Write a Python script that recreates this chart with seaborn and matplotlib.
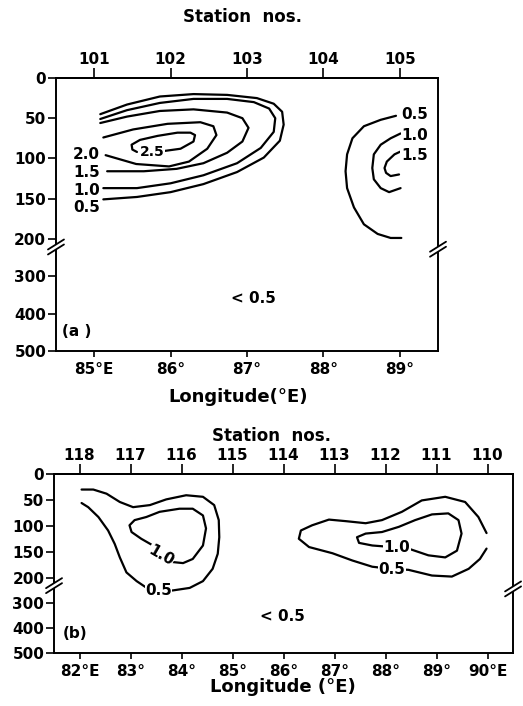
import numpy as np
import matplotlib
matplotlib.use('Agg')
import matplotlib.pyplot as plt
from matplotlib.patches import Polygon
import seaborn as sns

# ---- data (longitude, depth in m) ----
# panel (a): stations 101-105
a_stations = ['101', '102', '103', '104', '105']
a_station_lon = [85, 86, 87, 88, 89]
a_lon_ticks = [85, 86, 87, 88, 89]
a_lon_labels = ['85°E', '86°', '87°', '88°', '89°']

a_w05_lon = [85.12, 85.56, 86.00, 86.43, 86.87, 87.22, 87.43, 87.48, 87.46, 87.35, 87.13, 86.74, 86.30, 85.86, 85.43, 85.08]
a_w05_dep = [151, 148, 142, 132, 117, 99, 78, 58, 42, 32, 25, 21, 20, 23, 33, 45]
a_w10_lon = [85.12, 85.56, 86.00, 86.43, 86.87, 87.18, 87.35, 87.37, 87.29, 87.09, 86.74, 86.30, 85.86, 85.43, 85.08]
a_w10_dep = [137, 137, 131, 121, 106, 87, 67, 50, 38, 30, 26, 26, 31, 40, 51]
a_w15_lon = [85.17, 85.65, 86.08, 86.43, 86.74, 86.94, 87.02, 86.94, 86.74, 86.30, 85.86, 85.43, 85.08]
a_w15_dep = [116, 116, 113, 106, 93, 79, 62, 50, 43, 39, 41, 48, 56]
a_w20_lon = [85.15, 85.55, 85.98, 86.24, 86.48, 86.60, 86.56, 86.39, 85.96, 85.51, 85.12]
a_w20_dep = [96, 107, 110, 104, 88, 71, 60, 55, 57, 64, 74]
a_w25_lon = [85.90, 86.13, 86.30, 86.32, 86.26, 86.09, 85.83, 85.60, 85.49, 85.50, 85.56]
a_w25_dep = [91, 88, 79, 71, 68, 68, 72, 77, 83, 89, 92]

a_e05_lon = [88.95, 88.75, 88.53, 88.38, 88.31, 88.29, 88.31, 88.40, 88.53, 88.71, 88.88, 89.02]
a_e05_dep = [47, 52, 60, 75, 95, 116, 137, 161, 182, 194, 199, 199]
a_e10_lon = [89.01, 88.88, 88.75, 88.66, 88.64, 88.66, 88.75, 88.86, 89.01]
a_e10_dep = [69, 75, 83, 95, 112, 126, 137, 142, 137]
a_e15_lon = [89.02, 88.93, 88.83, 88.80, 88.82, 88.88, 88.99]
a_e15_dep = [91, 95, 104, 112, 118, 122, 120]

# panel (b): stations 118-110
b_stations = ['118', '117', '116', '115', '114', '113', '112', '111', '110']
b_station_lon = [82, 83, 84, 85, 86, 87, 88, 89, 90]
b_lon_ticks = [82, 83, 84, 85, 86, 87, 88, 89, 90]
b_lon_labels = ['82°E', '83°', '84°', '85°', '86°', '87°', '88°', '89°', '90°E']

b_w05_lon = [82.04, 82.27, 82.53, 82.79, 83.05, 83.38, 83.70, 84.09, 84.42, 84.64, 84.73, 84.74, 84.71, 84.61, 84.42, 84.16, 83.83, 83.55, 83.34, 83.12, 82.92, 82.79, 82.69, 82.56, 82.37, 82.17, 82.04]
b_w05_dep = [30, 30, 38, 54, 64, 60, 49, 41, 44, 60, 89, 122, 154, 183, 214, 241, 251, 255, 244, 214, 190, 161, 135, 109, 83, 64, 56]
b_w10_lon = [83.44, 83.21, 83.02, 82.98, 83.08, 83.31, 83.57, 83.96, 84.22, 84.42, 84.48, 84.42, 84.22, 84.03, 83.83, 83.60, 83.44]
b_w10_dep = [138, 125, 112, 99, 89, 83, 73, 67, 67, 80, 105, 138, 164, 172, 170, 158, 138]
b_e05_lon = [89.98, 89.82, 89.56, 89.17, 88.71, 88.32, 87.93, 87.61, 87.22, 86.89, 86.56, 86.34, 86.30, 86.50, 86.96, 87.35, 87.74, 88.10, 88.45, 88.91, 89.30, 89.63, 89.85, 89.98]
b_e05_dep = [114, 83, 54, 44, 51, 73, 89, 95, 91, 88, 99, 109, 125, 141, 153, 167, 179, 183, 185, 196, 198, 183, 164, 144]
b_e10_lon = [88.45, 88.84, 89.17, 89.40, 89.49, 89.43, 89.23, 88.91, 88.58, 88.26, 87.93, 87.61, 87.44, 87.48, 87.74, 88.00, 88.22, 88.45]
b_e10_dep = [144, 157, 161, 148, 115, 89, 76, 78, 89, 102, 112, 115, 122, 133, 138, 140, 142, 144]

depth_ticks = [0, 50, 100, 150, 200, 300, 400, 500]

sns.set_style('ticks')
plt.rcParams['font.family'] = ['DejaVu Sans']
plt.rcParams['font.weight'] = 'bold'
for key in ['text.color', 'axes.labelcolor', 'xtick.color', 'ytick.color', 'axes.edgecolor']:
    plt.rcParams[key] = 'black'

FW, FH = 523, 706
fig = plt.figure(figsize=(FW / 100, FH / 100), dpi=100)
ax_a = fig.add_axes([0.107, 0.503, 0.7305, 0.3865])
ax_b = fig.add_axes([0.1033, 0.0751, 0.8777, 0.2535])


def make_scale(k):
    # broken depth axis: 0-200 m stretched, 200-500 m compressed
    def fwd(d):
        d = np.asarray(d, dtype=float)
        return np.where(d <= 200, d, 200 + (d - 200) * k)

    def inv(f):
        f = np.asarray(f, dtype=float)
        return np.where(f <= 200, f, 200 + (f - 200) / k)
    return fwd, inv


def draw_break(ax, xa, depth, fwd):
    ya = 1 - float(fwd(depth)) / float(fwd(500))
    pos = ax.get_position()
    dx = 8 / (pos.width * FW)
    dy = 5 / (pos.height * FH)
    gap = 2.5 / (pos.height * FH)
    ax.add_patch(Polygon([(xa - dx, ya - dy - gap), (xa + dx, ya + dy - gap),
                          (xa + dx, ya + dy + gap), (xa - dx, ya - dy + gap)],
                         closed=True, transform=ax.transAxes, facecolor='white',
                         edgecolor='none', clip_on=False, zorder=5))
    for s in (-gap, gap):
        ax.plot([xa - dx, xa + dx], [ya - dy + s, ya + dy + s], transform=ax.transAxes,
                color='black', lw=1.3, clip_on=False, zorder=6)


def setup_axes(ax, k, xlim, ticks, tick_labels, st_lon, st_labels):
    fwd, inv = make_scale(k)
    ax.set_yscale('function', functions=(fwd, inv))
    ax.set_xlim(*xlim)
    ax.set_ylim(500, 0)
    ax.set_yticks(depth_ticks)
    ax.set_yticklabels([str(t) for t in depth_ticks], fontsize=11, fontweight='bold')
    ax.set_xticks(ticks)
    ax.set_xticklabels(tick_labels, fontsize=11, fontweight='bold')
    ax.tick_params(axis='y', direction='out', length=6, width=1.2, pad=1)
    ax.tick_params(axis='x', direction='out', length=4, width=1.2, pad=4)
    ax.yaxis.set_minor_locator(plt.NullLocator())
    for sp in ax.spines.values():
        sp.set_visible(True)
        sp.set_linewidth(1.4)
        sp.set_color('black')
    sec = ax.secondary_xaxis('top')
    sec.set_xticks(st_lon)
    sec.set_xticklabels(st_labels, fontsize=11, fontweight='bold')
    sec.tick_params(direction='out', length=7, width=1.2, pad=1)
    sec.spines['top'].set_linewidth(1.4)
    ax.set_xlabel('')
    ax.set_ylabel('')
    return fwd


def contour(ax, lon, dep):
    sns.lineplot(x=lon, y=dep, sort=False, estimator=None, color='black',
                 lw=1.6, ax=ax, zorder=3)


def clabel(ax, x, y, s, rot=0, size=11):
    ax.text(x, y, s, ha='center', va='center', fontsize=size, fontweight='bold',
            rotation=rot, zorder=4,
            bbox=dict(facecolor='white', edgecolor='none', pad=0.3))


# ---- panel (a) ----
for lon, dep in [(a_w05_lon, a_w05_dep), (a_w10_lon, a_w10_dep), (a_w15_lon, a_w15_dep),
                 (a_w20_lon, a_w20_dep), (a_w25_lon, a_w25_dep),
                 (a_e05_lon, a_e05_dep), (a_e10_lon, a_e10_dep), (a_e15_lon, a_e15_dep)]:
    contour(ax_a, lon, dep)
fwd_a = setup_axes(ax_a, 0.465, (84.5, 89.5), a_lon_ticks, a_lon_labels, a_station_lon, a_stations)

clabel(ax_a, 84.90, 95, '2.0')
clabel(ax_a, 84.90, 117, '1.5')
clabel(ax_a, 84.90, 140, '1.0')
clabel(ax_a, 84.90, 161, '0.5')
clabel(ax_a, 85.76, 92, '2.5', size=10)
clabel(ax_a, 89.2, 46, '0.5')
clabel(ax_a, 89.2, 71, '1.0')
clabel(ax_a, 89.19, 96, '1.5')
ax_a.text(87.09, 360, '< 0.5', ha='center', va='center', fontsize=11, fontweight='bold')
ax_a.text(0.015, 0.07, '(a )', transform=ax_a.transAxes, ha='left', va='center',
          fontsize=11, fontweight='bold')
draw_break(ax_a, 0.0, 222, fwd_a)
draw_break(ax_a, 1.0, 228, fwd_a)

# ---- panel (b) ----
for lon, dep in [(b_w05_lon, b_w05_dep), (b_w10_lon, b_w10_dep),
                 (b_e05_lon, b_e05_dep), (b_e10_lon, b_e10_dep)]:
    contour(ax_b, lon, dep)
fwd_b = setup_axes(ax_b, 0.485, (81.5, 90.5), b_lon_ticks, b_lon_labels, b_station_lon, b_stations)

clabel(ax_b, 83.60, 157, '1.0', rot=-30)
clabel(ax_b, 83.55, 252, '0.5')
clabel(ax_b, 88.22, 142, '1.0')
clabel(ax_b, 88.12, 184, '0.5')
ax_b.text(85.97, 355, '< 0.5', ha='center', va='center', fontsize=11, fontweight='bold')
ax_b.text(0.02, 0.11, '(b)', transform=ax_b.transAxes, ha='left', va='center',
          fontsize=11, fontweight='bold')
draw_break(ax_b, 0.0, 232, fwd_b)
draw_break(ax_b, 1.0, 245, fwd_b)

# ---- titles and axis labels ----
fig.text(0.463, 0.976, 'Station  nos.', ha='center', va='center', fontsize=12, fontweight='bold')
fig.text(0.455, 0.437, 'Longitude(°E)', ha='center', va='center', fontsize=13, fontweight='bold')
fig.text(0.52, 0.382, 'Station  nos.', ha='center', va='center', fontsize=12, fontweight='bold')
fig.text(0.541, 0.027, 'Longitude (°E)', ha='center', va='center', fontsize=13, fontweight='bold')

fig.savefig('out.png', dpi=100, facecolor='white')
